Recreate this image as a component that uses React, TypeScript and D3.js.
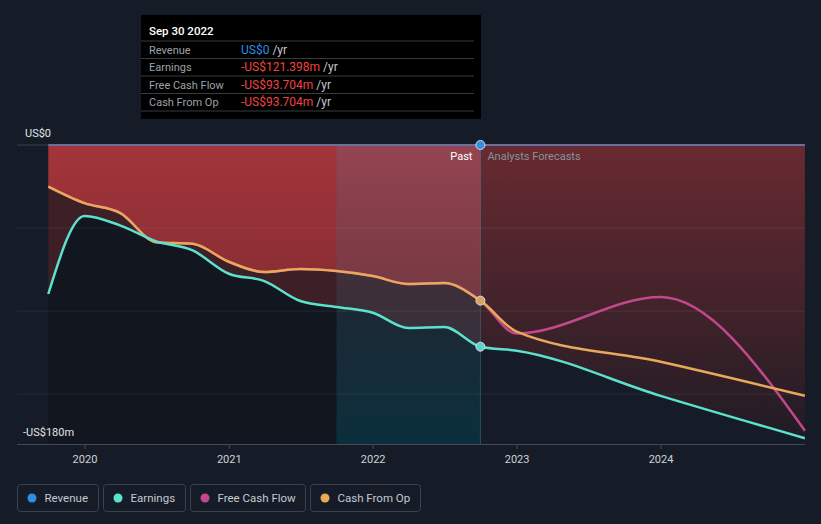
import React from "react";
import * as d3 from "d3";

const pastDates = [
  "2019-09-30", "2019-12-31", "2020-03-31", "2020-06-30", "2020-09-30",
  "2020-12-31", "2021-03-31", "2021-06-30", "2021-09-30", "2021-12-31",
  "2022-03-31", "2022-06-30", "2022-09-30",
];
const forecastDates = ["2022-12-31", "2023-12-31", "2024-12-31"];

const revenuePast = [0, 0, 0, 0, 0, 0, 0, 0, 0, 0, 0, 0, 0];
const revenueForecast = [0, 0, 0];
const earningsPast = [-89.7, -42.7, -48.5, -58.0, -63.5, -77.5, -81.9, -93.9, -97.5, -101.0, -110.2, -109.6, -121.4];
const earningsForecast = [-123.8, -151.0, -176.5];
const cfoPast = [-25.0, -35.0, -41.0, -58.5, -59.5, -70.3, -76.5, -74.7, -75.9, -78.9, -83.7, -83.1, -93.7];
const cfoForecast = [-112.4, -130.5, -151.0];
const fcfPast = [-25.0, -35.0, -41.0, -58.5, -59.5, -70.3, -76.5, -74.7, -75.9, -78.9, -83.7, -83.1, -93.7];
const fcfForecast = [-113.5, -91.5, -172.0];

const yearTicks = [2020, 2021, 2022, 2023, 2024];
const yLabels = ["US$0", "-US$180m"];
const gridValues = [-50, -100, -150];

const tooltipTitle = "Sep 30 2022";
const tooltipLabels = ["Revenue", "Earnings", "Free Cash Flow", "Cash From Op"];
const tooltipValues = ["US$0", "-US$121.398m", "-US$93.704m", "-US$93.704m"];

const legendNames = ["Revenue", "Earnings", "Free Cash Flow", "Cash From Op"];
const legendColors = ["#2f8fe0", "#5ce1cd", "#c5478b", "#e8a95b"];

const W = 821;
const H = 524;
const FONT = "Roboto, 'Noto Sans', sans-serif";

const parse = d3.utcParse("%Y-%m-%d");

type Pt = { d: Date; v: number };
function series(dates: string[], vals: number[]): Pt[] {
  return dates.map((s, i) => ({ d: parse(s) as Date, v: vals[i] }));
}

export default function App() {
  const x = d3
    .scaleUtc()
    .domain([parse("2019-09-30") as Date, parse("2024-12-31") as Date])
    .range([48.3, 804.9]);
  const y = d3.scaleLinear().domain([-180, 0]).range([444, 145]);

  const allDates = [...pastDates, ...forecastDates];
  const revenue = series(allDates, [...revenuePast, ...revenueForecast]);
  const earnings = series(allDates, [...earningsPast, ...earningsForecast]);
  const cfo = series(allDates, [...cfoPast, ...cfoForecast]);
  const fcf = series(allDates, [...fcfPast, ...fcfForecast]);
  const cfoP = series(pastDates, cfoPast);

  const line = d3
    .line<Pt>()
    .x((p) => x(p.d))
    .y((p) => y(p.v))
    .curve(d3.curveMonotoneX);

  const revAt = (i: number) => revenue[i].v;
  const area = d3
    .area<Pt>()
    .x((p) => x(p.d))
    .y0((p, i) => y(revAt(i)))
    .y1((p) => y(p.v))
    .curve(d3.curveMonotoneX);

  const nowD = parse("2022-09-30") as Date;
  const hlD = parse("2021-09-30") as Date;
  const xNow = x(nowD);
  const xHl = x(hlD);
  const x0 = x.range()[0];
  const x1 = x.range()[1];
  const yTop = y(0);
  const yBot = y(-180);
  const lastPast = pastDates.length - 1;

  const legendW = [81, 82, 115, 110];
  let acc = 17;
  const legendX = legendW.map((w) => {
    const s = acc;
    acc += w + 5;
    return s;
  });

  return (
    <svg
      width={W}
      height={H}
      style={{ position: "fixed", left: 0, top: 0, display: "block" }}
      fontFamily={FONT}
    >
      <defs>
        <clipPath id="pastClip">
          <rect x={0} y={0} width={xNow} height={H} />
        </clipPath>
        <clipPath id="fcClip">
          <rect x={xNow} y={0} width={W - xNow} height={H} />
        </clipPath>
        <linearGradient id="fcGrad" gradientUnits="userSpaceOnUse" x1={0} y1={yTop} x2={0} y2={yBot}>
          <stop offset="0" stopColor="#682a31" />
          <stop offset="0.5" stopColor="#45232b" />
          <stop offset="1" stopColor="#1f1b24" />
        </linearGradient>
        <linearGradient id="pastRed" gradientUnits="userSpaceOnUse" x1={0} y1={yTop} x2={0} y2={y(-95)}>
          <stop offset="0" stopColor="#a3353b" />
          <stop offset="1" stopColor="#862c33" />
        </linearGradient>
        <linearGradient id="hlGrad" gradientUnits="userSpaceOnUse" x1={0} y1={yTop} x2={0} y2={yBot}>
          <stop offset="0" stopColor="rgb(110,110,140)" stopOpacity="0.28" />
          <stop offset="0.5" stopColor="rgb(60,95,115)" stopOpacity="0.24" />
          <stop offset="1" stopColor="rgb(0,80,100)" stopOpacity="0.42" />
        </linearGradient>
      </defs>

      <rect x={0} y={0} width={W} height={H} fill="#151c27" />

      {/* dark past backdrop */}
      <rect x={x0} y={yTop} width={xNow - x0} height={yBot - yTop} fill="#000" opacity={0.18} />

      {/* areas */}
      <path d={area(earnings) || ""} fill="#3d1f26" clipPath="url(#pastClip)" />
      <path d={area(earnings) || ""} fill="url(#fcGrad)" clipPath="url(#fcClip)" />
      <path d={area(cfoP) || ""} fill="url(#pastRed)" />

      {/* highlight last year */}
      <rect x={xHl} y={yTop} width={xNow - xHl} height={yBot - yTop} fill="url(#hlGrad)" />

      {/* grid */}
      {gridValues.map((g) => (
        <line key={g} x1={17} x2={x1} y1={y(g)} y2={y(g)} stroke="#ffffff" strokeOpacity={0.07} />
      ))}
      <line x1={17} x2={x1} y1={yTop} y2={yTop} stroke="#3b414c" />
      <line x1={17} x2={x1} y1={yBot + 0.5} y2={yBot + 0.5} stroke="#444a56" />
      {yearTicks.map((yr) => {
        const tx = x(new Date(Date.UTC(yr, 0, 1)));
        return (
          <g key={yr}>
            <line x1={tx} x2={tx} y1={yBot} y2={yBot + 5} stroke="#444a56" />
            <text x={tx} y={463} textAnchor="middle" fontSize={11} fill="#d0d3d8">
              {yr}
            </text>
          </g>
        );
      })}

      {/* now line */}
      <line x1={xNow} x2={xNow} y1={yTop} y2={yBot} stroke="rgb(90,160,190)" strokeOpacity={0.35} />

      {/* lines */}
      <path d={line(fcf) || ""} fill="none" stroke={legendColors[2]} strokeWidth={2.5} />
      <path d={line(cfo) || ""} fill="none" stroke={legendColors[3]} strokeWidth={2.5} />
      <path d={line(earnings) || ""} fill="none" stroke={legendColors[1]} strokeWidth={2.5} />
      <path d={line(revenue) || ""} fill="none" stroke="#6a6f9f" strokeWidth={2} />

      {/* dots */}
      <circle cx={xNow} cy={y(revenue[lastPast].v)} r={4.5} fill={legendColors[0]} stroke="#d8dde5" strokeWidth={1} />
      <circle cx={xNow} cy={y(cfo[lastPast].v)} r={4.5} fill="#d9a35d" stroke="#d8dde5" strokeWidth={1} />
      <circle cx={xNow} cy={y(earnings[lastPast].v)} r={4.5} fill="#5ad6c8" stroke="#d8dde5" strokeWidth={1} />

      {/* y labels */}
      <text x={25} y={137} fontSize={11} fill="#e2e4e8">
        {yLabels[0]}
      </text>
      <text x={23} y={436} fontSize={11} fill="#e2e4e8">
        {yLabels[1]}
      </text>

      {/* past / forecast labels */}
      <text x={xNow - 8} y={160} textAnchor="end" fontSize={11} fill="#ffffff">
        Past
      </text>
      <text x={xNow + 7} y={160} fontSize={11} fill="#8c9099">
        Analysts Forecasts
      </text>

      {/* tooltip */}
      <g>
        <rect x={141} y={15} width={340} height={104} fill="#000000" />
        <text x={149} y={35} fontSize={11.5} fontWeight={500} fill="#ffffff">
          {tooltipTitle}
        </text>
        {tooltipLabels.map((lab, i) => {
          const ty = 41 + i * 17.5;
          return (
            <g key={lab}>
              <line x1={141} x2={474} y1={ty} y2={ty} stroke="#3a3a3a" />
              <text x={149} y={ty + 12.5} fontSize={11} fill="#9da1a8">
                {lab}
              </text>
              <text x={241} y={ty + 12.5} fontSize={12}>
                <tspan fill={i === 0 ? "#2f8fe0" : "#f0443f"}>{tooltipValues[i]}</tspan>
                <tspan fill="#c4c6ca"> /yr</tspan>
              </text>
            </g>
          );
        })}
        <line x1={141} x2={474} y1={111} y2={111} stroke="#3a3a3a" />
      </g>

      {/* legend */}
      {legendNames.map((n, i) => (
        <g key={n} transform={`translate(${legendX[i]},484)`}>
          <rect x={0.5} y={0.5} width={legendW[i]} height={27} rx={3} fill="none" stroke="#3b414d" />
          <circle cx={15} cy={14} r={4.5} fill={legendColors[i]} />
          <text x={27.5} y={18} fontSize={11.5} fill="#c5c9d0">
            {n}
          </text>
        </g>
      ))}
    </svg>
  );
}
